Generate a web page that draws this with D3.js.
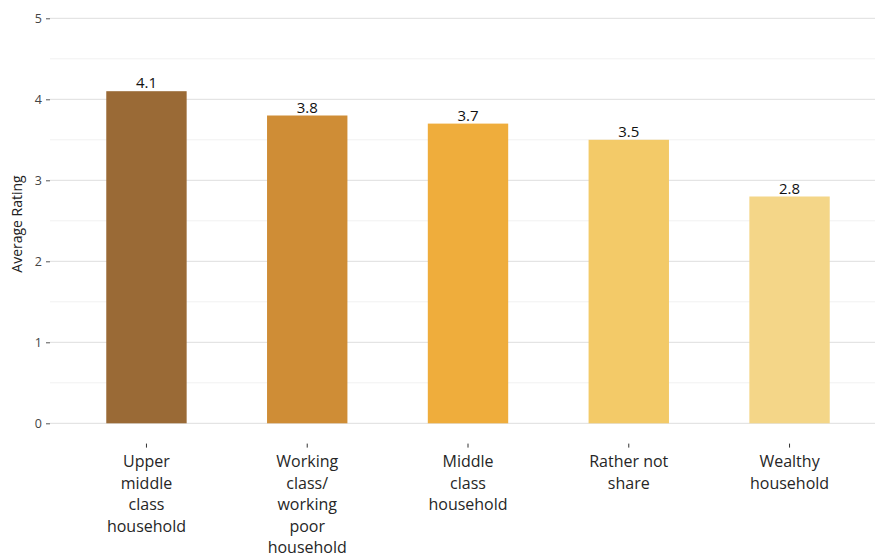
<!DOCTYPE html>
<html>
<head>
<meta charset="utf-8">
<script src="https://cdn.jsdelivr.net/npm/d3@7"></script>
<style>
  html, body { margin: 0; padding: 0; background: #ffffff; }
  svg { display: block; font-family: "Open Sans", "DejaVu Sans", sans-serif; }
</style>
</head>
<body>
<svg id="chart" width="875" height="560"></svg>
<script>
// Household categories (line breaks mark label wrapping)
const categories = [
  "Upper\nmiddle\nclass\nhousehold",
  "Working\nclass/\nworking\npoor\nhousehold",
  "Middle\nclass\nhousehold",
  "Rather not\nshare",
  "Wealthy\nhousehold"
];
// Average rating per category
const ratings = [4.1, 3.8, 3.7, 3.5, 2.8];
// Bar fill per category, dark brown to pale gold
const barColors = ["#9a6a36", "#cf8d36", "#efad3c", "#f3ca68", "#f4d688"];
// Y axis ticks
const yTicks = [0, 1, 2, 3, 4, 5];
const yMinorTicks = [0.5, 1.5, 2.5, 3.5, 4.5];

const svg = d3.select("#chart");
const panel = { left: 50, right: 886, top: -2, bottom: 443.6 };

const x = d3.scaleBand()
  .domain(d3.range(categories.length))
  .range([panel.left, panel.right])
  .paddingInner(0.5)
  .paddingOuter(0.35);

const y = d3.scaleLinear()
  .domain([0, 5])
  .range([423.3, 18.3]);

// Grid lines
svg.append("g").selectAll("line.minor")
  .data(yMinorTicks).join("line")
  .attr("x1", panel.left).attr("x2", panel.right)
  .attr("y1", d => y(d)).attr("y2", d => y(d))
  .attr("stroke", "#f1f1f1").attr("stroke-width", 1);

svg.append("g").selectAll("line.major")
  .data(yTicks).join("line")
  .attr("x1", panel.left).attr("x2", panel.right)
  .attr("y1", d => y(d)).attr("y2", d => y(d))
  .attr("stroke", "#dedede").attr("stroke-width", 1);

// Y axis
const yAxis = d3.axisLeft(y).tickValues(yTicks).tickSize(4).tickPadding(4).tickFormat(d3.format("d"));
const gy = svg.append("g").attr("transform", `translate(${panel.left},0)`).call(yAxis);
gy.select(".domain").remove();
gy.selectAll(".tick line").attr("stroke", "#555");
gy.selectAll(".tick text")
  .attr("fill", "#444")
  .style("font-size", "12.5px")
  .style("font-family", "'Open Sans', sans-serif");

// Bars
svg.append("g").selectAll("rect")
  .data(ratings).join("rect")
  .attr("x", (d, i) => x(i))
  .attr("width", x.bandwidth())
  .attr("y", d => y(d))
  .attr("height", d => y(0) - y(d))
  .attr("fill", (d, i) => barColors[i]);

// Value labels
svg.append("g").selectAll("text")
  .data(ratings).join("text")
  .attr("x", (d, i) => x(i) + x.bandwidth() / 2)
  .attr("y", d => y(d) - 3)
  .attr("text-anchor", "middle")
  .attr("fill", "#111")
  .style("font-size", "15px")
  .text(d => d3.format(".1f")(d));

// X axis ticks and wrapped labels
const xAxis = d3.axisBottom(x).tickSize(4).tickPadding(3).tickFormat("");
const gx = svg.append("g").attr("transform", `translate(0,${panel.bottom})`).call(xAxis);
gx.select(".domain").remove();
gx.selectAll(".tick line").attr("stroke", "#333");
gx.selectAll(".tick text").remove();

const xl = svg.append("g").selectAll("text")
  .data(categories).join("text")
  .attr("text-anchor", "middle")
  .attr("fill", "#262626")
  .style("font-size", "16px");
xl.each(function(d, i) {
  const cx = x(i) + x.bandwidth() / 2;
  d3.select(this).selectAll("tspan")
    .data(d.split("\n")).join("tspan")
    .attr("x", cx)
    .attr("y", (t, j) => 467 + j * 21.5)
    .text(t => t);
});

// Y axis title
svg.append("text")
  .attr("transform", "translate(22,224) rotate(-90)")
  .attr("text-anchor", "middle")
  .attr("fill", "#222")
  .style("font-size", "14px")
  .text("Average Rating");
</script>
</body>
</html>
